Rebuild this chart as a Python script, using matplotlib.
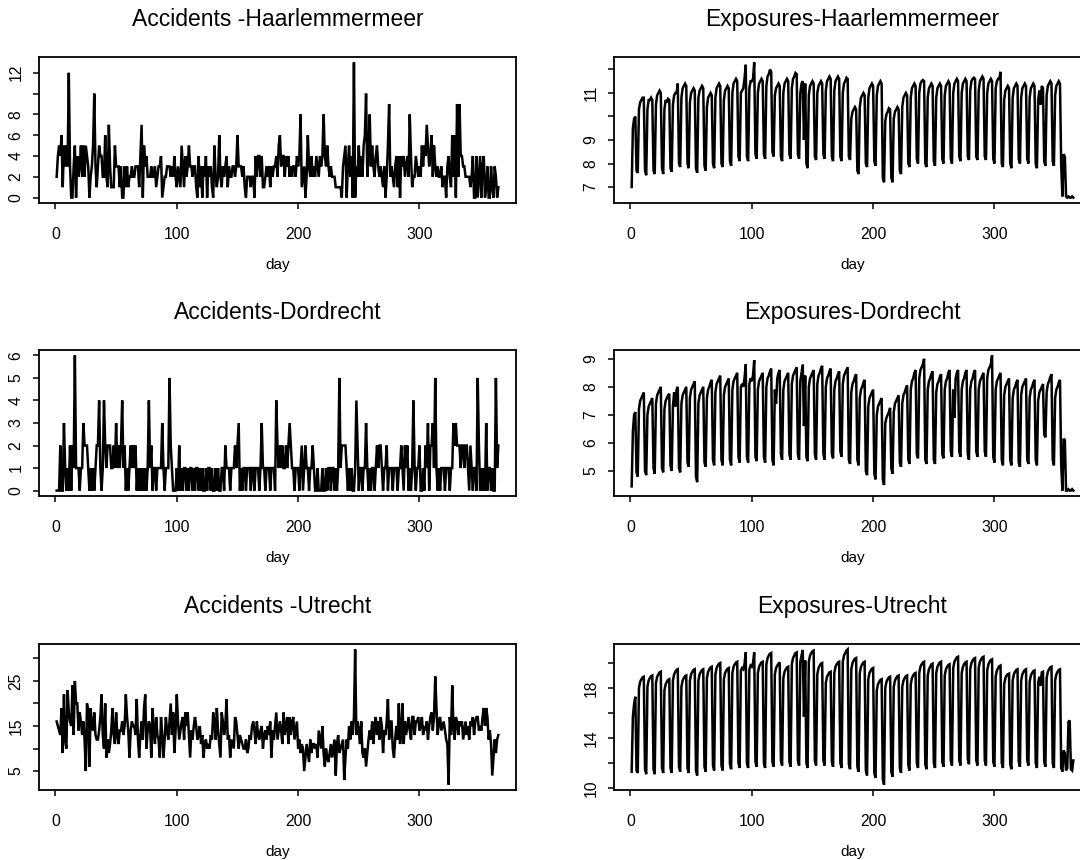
#!/usr/bin/env python3
"""Daily accidents and exposures for three Dutch regions (one year, 365 days)."""
from __future__ import annotations

import matplotlib

matplotlib.use("Agg")
import matplotlib.pyplot as plt
import numpy as np

# ---- data (day 1..365) ----
acc_haarlemmermeer = [
    2, 4, 5, 4, 6, 1, 5, 3, 5, 3,       # 1-10
    12, 3, 0, 0, 3, 5, 0, 4, 2, 3,      # 11-20
    5, 2, 5, 2, 5, 4, 3, 0, 2, 3,       # 21-30
    5, 10, 3, 1, 3, 5, 4, 4, 2, 2,      # 31-40
    6, 2, 1, 7, 3, 1, 1, 1, 5, 3,       # 41-50
    3, 3, 1, 3, 0, 0, 3, 1, 3, 1,       # 51-60
    2, 2, 3, 2, 2, 3, 3, 3, 1, 4,       # 61-70
    7, 0, 5, 3, 4, 2, 2, 2, 3, 2,       # 71-80
    2, 3, 1, 2, 3, 3, 4, 0, 1, 2,       # 81-90
    2, 3, 3, 3, 2, 3, 2, 4, 2, 1,       # 91-100
    3, 2, 1, 5, 3, 1, 4, 2, 3, 5,       # 101-110
    3, 3, 2, 3, 3, 1, 0, 4, 1, 3,       # 111-120
    0, 3, 2, 4, 0, 3, 2, 3, 1, 0,       # 121-130
    5, 2, 1, 2, 6, 2, 1, 3, 2, 3,       # 131-140
    4, 1, 3, 2, 2, 3, 3, 2, 3, 6,       # 141-150
    3, 3, 3, 2, 3, 1, 0, 2, 2, 2,       # 151-160
    1, 2, 2, 0, 4, 2, 4, 4, 2, 4,       # 161-170
    1, 1, 2, 3, 2, 3, 1, 3, 2, 3,       # 171-180
    3, 4, 2, 5, 6, 3, 4, 4, 2, 4,       # 181-190
    3, 4, 2, 3, 2, 3, 3, 2, 4, 3,       # 191-200
    4, 8, 1, 2, 3, 0, 2, 6, 3, 2,       # 201-210
    4, 2, 3, 2, 4, 3, 2, 4, 3, 4,       # 211-220
    8, 4, 3, 5, 3, 2, 3, 2, 2, 2,       # 221-230
    1, 1, 1, 1, 1, 0, 3, 4, 5, 0,       # 231-240
    3, 5, 2, 4, 0, 13, 0, 3, 2, 5,      # 241-250
    2, 4, 2, 5, 6, 10, 2, 4, 8, 3,      # 251-260
    5, 3, 2, 4, 5, 3, 2, 3, 2, 1,       # 261-270
    3, 0, 2, 5, 9, 2, 3, 2, 1, 3,       # 271-280
    4, 1, 4, 0, 4, 3, 4, 2, 3, 4,       # 281-290
    2, 8, 4, 1, 2, 2, 4, 3, 2, 3,       # 291-300
    2, 5, 3, 5, 4, 7, 5, 3, 4, 6,       # 301-310
    2, 5, 3, 2, 3, 2, 2, 3, 1, 2,       # 311-320
    2, 0, 3, 4, 2, 1, 6, 2, 6, 0,       # 321-330
    9, 2, 9, 4, 4, 3, 3, 2, 2, 2,       # 331-340
    2, 1, 2, 4, 0, 0, 4, 0, 2, 4,       # 341-350
    0, 3, 4, 0, 1, 3, 0, 0, 3, 1,       # 351-360
    0, 3, 2, 0, 1,                      # 361-365
]

acc_dordrecht = [
    0, 0, 0, 2, 0, 0, 3, 1, 0, 1,       # 1-10
    0, 2, 0, 2, 1, 6, 1, 1, 1, 0,       # 11-20
    1, 1, 3, 2, 2, 2, 1, 0, 1, 0,       # 21-30
    1, 0, 1, 2, 2, 4, 1, 0, 1, 4,       # 31-40
    2, 1, 2, 2, 2, 1, 1, 2, 1, 3,       # 41-50
    1, 2, 1, 2, 4, 1, 2, 0, 1, 0,       # 51-60
    1, 2, 1, 2, 1, 2, 0, 1, 0, 1,       # 61-70
    0, 1, 0, 1, 0, 1, 4, 1, 2, 0,       # 71-80
    1, 1, 0, 1, 1, 1, 1, 3, 1, 0,       # 81-90
    1, 1, 1, 5, 2, 1, 0, 0, 0, 1,       # 91-100
    0, 2, 0, 1, 0, 1, 1, 0, 1, 0,       # 101-110
    1, 1, 0, 1, 0, 1, 1, 0, 1, 0,       # 111-120
    1, 0, 0, 1, 0, 1, 1, 0, 1, 0,       # 121-130
    0, 1, 0, 1, 0, 0, 1, 1, 0, 2,       # 131-140
    1, 1, 1, 0, 1, 1, 1, 2, 1, 2,       # 141-150
    3, 0, 1, 0, 1, 1, 0, 1, 1, 1,       # 151-160
    0, 1, 1, 0, 1, 1, 1, 0, 1, 3,       # 161-170
    1, 1, 0, 1, 1, 1, 0, 1, 1, 1,       # 171-180
    0, 4, 2, 1, 2, 1, 2, 1, 1, 2,       # 181-190
    1, 2, 3, 2, 1, 1, 0, 1, 1, 1,       # 191-200
    0, 1, 2, 0, 1, 2, 1, 1, 0, 1,       # 201-210
    1, 2, 1, 0, 0, 1, 0, 0, 0, 1,       # 211-220
    0, 0, 1, 0, 1, 1, 0, 1, 1, 0,       # 221-230
    1, 0, 1, 5, 1, 2, 2, 2, 2, 1,       # 231-240
    0, 1, 0, 1, 0, 0, 1, 4, 2, 0,       # 241-250
    1, 1, 0, 1, 1, 3, 1, 0, 1, 0,       # 251-260
    1, 1, 0, 1, 2, 1, 2, 2, 1, 0,       # 261-270
    1, 1, 2, 0, 1, 1, 1, 0, 1, 1,       # 271-280
    1, 0, 1, 1, 2, 1, 0, 2, 1, 2,       # 281-290
    0, 1, 0, 1, 4, 1, 0, 1, 1, 2,       # 291-300
    0, 0, 1, 0, 2, 1, 3, 0, 2, 2,       # 301-310
    3, 1, 5, 1, 0, 1, 0, 1, 1, 1,       # 311-320
    0, 1, 1, 1, 0, 1, 1, 3, 2, 3,       # 321-330
    2, 2, 2, 1, 2, 2, 1, 2, 2, 1,       # 331-340
    0, 2, 1, 0, 1, 1, 0, 5, 2, 0,       # 341-350
    1, 0, 1, 0, 3, 0, 1, 1, 0, 1,       # 351-360
    0, 0, 5, 1, 2,                      # 361-365
]

acc_utrecht = [
    16, 15, 14, 13, 19, 9, 22, 12, 10, 23,     # 1-10
    18, 16, 15, 24, 13, 25, 20, 20, 14, 18,    # 11-20
    16, 13, 16, 12, 5, 20, 18, 6, 19, 15,      # 21-30
    14, 18, 13, 12, 12, 14, 17, 22, 13, 10,    # 31-40
    20, 8, 12, 9, 11, 14, 19, 13, 11, 18,      # 41-50
    13, 11, 14, 14, 16, 13, 15, 22, 17, 14,    # 51-60
    8, 14, 16, 15, 15, 13, 21, 12, 8, 13,      # 61-70
    16, 12, 19, 22, 10, 14, 16, 15, 8, 19,     # 71-80
    14, 11, 17, 13, 12, 8, 17, 13, 8, 12,      # 81-90
    17, 14, 12, 16, 20, 13, 18, 9, 14, 22,     # 91-100
    16, 12, 14, 16, 17, 12, 18, 15, 18, 13,    # 101-110
    8, 14, 12, 15, 17, 15, 12, 13, 15, 11,     # 111-120
    13, 8, 11, 12, 10, 11, 10, 13, 12, 18,     # 121-130
    16, 12, 19, 14, 11, 8, 18, 16, 13, 15,     # 131-140
    21, 12, 13, 8, 12, 11, 10, 17, 16, 13,     # 141-150
    10, 13, 12, 11, 10, 10, 12, 9, 10, 13,     # 151-160
    12, 15, 16, 14, 11, 16, 13, 12, 14, 15,    # 161-170
    10, 13, 14, 12, 15, 13, 16, 8, 14, 12,     # 171-180
    15, 18, 12, 14, 16, 14, 11, 18, 13, 15,    # 181-190
    17, 11, 17, 13, 16, 17, 12, 14, 16, 10,    # 191-200
    12, 9, 11, 10, 5, 8, 11, 9, 7, 12,         # 201-210
    9, 11, 11, 10, 11, 8, 14, 12, 10, 15,      # 211-220
    9, 6, 10, 8, 7, 9, 11, 8, 10, 12,          # 221-230
    4, 11, 13, 9, 10, 11, 12, 3, 8, 12,        # 231-240
    10, 15, 12, 16, 13, 17, 32, 13, 16, 14,    # 241-250
    11, 16, 9, 8, 10, 6, 9, 12, 14, 12,        # 251-260
    16, 11, 15, 17, 13, 16, 12, 17, 15, 9,     # 261-270
    14, 13, 16, 21, 12, 16, 16, 10, 8, 12,     # 271-280
    15, 12, 20, 11, 14, 20, 11, 16, 13, 15,    # 281-290
    17, 14, 12, 17, 17, 13, 16, 16, 17, 14,    # 291-300
    15, 17, 13, 15, 14, 16, 12, 15, 17, 18,    # 301-310
    14, 17, 26, 19, 13, 16, 17, 14, 15, 16,    # 311-320
    14, 12, 11, 2, 17, 13, 24, 15, 12, 17,     # 321-330
    16, 13, 16, 15, 16, 12, 14, 16, 13, 15,    # 331-340
    12, 16, 15, 17, 13, 16, 17, 17, 14, 15,    # 341-350
    14, 17, 19, 15, 19, 17, 12, 14, 11, 4,     # 351-360
    8, 12, 9, 12, 13,                          # 361-365
]

# exposures: written week by week (Mon..Sun), first 6 days are a partial week
exp_haarlemmermeer = [
    7.0, 9.5, 9.9, 10.0, 7.7, 7.6,
    10.3, 10.6, 10.7, 10.8, 10.8, 7.7, 7.5,
    10.3, 10.7, 10.7, 10.8, 10.7, 7.7, 7.55,
    10.5, 10.9, 11.0, 11.1, 11.0, 7.8, 7.55,
    10.3, 10.7, 10.6, 10.75, 10.7, 7.8, 7.65,
    10.5, 10.9, 11.0, 11.0, 11.4, 8.0, 7.85,
    10.8, 11.2, 11.3, 11.4, 11.3, 8.0, 7.8,
    10.6, 11.0, 11.1, 11.2, 11.1, 7.8, 7.6,
    10.8, 11.1, 11.2, 11.3, 11.2, 7.9, 7.7,
    10.4, 10.8, 10.9, 11.0, 10.9, 8.0, 7.8,
    10.8, 11.2, 11.3, 11.4, 11.3, 8.0, 7.85,
    10.7, 11.1, 11.2, 11.3, 11.2, 8.1, 7.9,
    11.0, 11.4, 11.5, 11.6, 11.5, 8.3, 8.1,
    11.0, 11.1, 11.2, 11.6, 12.2, 8.3, 8.1,
    11.2, 11.5, 11.5, 11.6, 12.3, 8.4, 8.2,
    11.0, 11.4, 11.5, 11.6, 11.5, 8.4, 8.2,
    11.3, 11.7, 11.8, 12.0, 11.9, 8.5, 8.3,
    10.9, 11.2, 11.3, 11.4, 11.3, 8.3, 8.1,
    11.0, 11.4, 11.5, 11.6, 11.5, 8.4, 8.2,
    11.2, 11.6, 11.7, 11.85, 11.8, 8.4, 8.2,
    11.0, 11.4, 11.5, 9.0, 11.4, 8.0, 7.8,
    10.9, 11.3, 11.4, 11.5, 11.4, 8.3, 8.15,
    11.0, 11.3, 11.4, 11.5, 11.4, 8.4, 8.2,
    11.1, 11.5, 11.6, 11.7, 11.6, 8.3, 8.1,
    11.1, 11.5, 11.6, 11.7, 11.6, 8.3, 8.1,
    11.0, 11.4, 11.5, 11.65, 11.6, 8.3, 8.15,
    9.9, 10.2, 10.3, 10.4, 10.3, 7.7, 7.55,
    10.4, 10.8, 10.9, 11.0, 10.9, 8.0, 7.85,
    10.8, 11.2, 11.3, 11.4, 11.3, 8.1, 7.9,
    10.9, 11.3, 11.4, 11.5, 11.4, 7.4, 7.2,
    9.8, 10.1, 10.2, 10.35, 10.3, 7.4, 7.2,
    9.9, 10.2, 10.3, 10.4, 10.3, 7.7, 7.55,
    10.4, 10.8, 10.9, 11.0, 10.9, 8.0, 7.85,
    10.8, 11.2, 11.3, 11.4, 11.3, 8.2, 8.0,
    11.0, 11.4, 11.5, 11.55, 11.5, 8.0, 7.85,
    10.8, 11.2, 11.3, 11.4, 11.3, 8.1, 7.9,
    10.8, 11.2, 11.3, 11.4, 11.3, 8.2, 8.0,
    10.9, 11.3, 11.4, 11.5, 11.4, 8.2, 8.0,
    11.0, 11.4, 11.5, 11.6, 11.5, 8.3, 8.1,
    11.0, 11.4, 11.5, 11.6, 11.5, 8.3, 8.15,
    11.1, 11.5, 11.6, 11.65, 11.6, 8.3, 8.15,
    11.1, 11.5, 11.6, 11.7, 11.6, 8.3, 8.15,
    11.0, 11.4, 11.5, 11.6, 11.5, 8.2, 8.0,
    11.2, 11.5, 11.6, 11.6, 11.9, 8.0, 7.85,
    10.7, 11.1, 11.2, 11.3, 11.2, 8.0, 7.8,
    10.8, 11.2, 11.3, 11.4, 11.3, 8.2, 8.0,
    10.8, 11.2, 11.3, 11.4, 11.3, 8.2, 8.0,
    10.8, 11.2, 11.3, 11.4, 11.3, 8.0, 7.8,
    10.7, 11.1, 10.5, 11.3, 11.2, 8.1, 7.9,
    10.9, 11.3, 11.4, 11.5, 11.4, 8.1, 7.9,
    10.9, 11.3, 11.4, 11.5, 11.4, 7.9, 6.6,
    8.4, 8.3, 6.6, 6.55, 6.6, 6.55, 6.55, 6.6, 6.55,
]

exp_dordrecht = [
    4.45, 6.4, 7.0, 7.1, 4.95, 4.8,
    7.2, 7.5, 7.6, 7.7, 7.8, 5.0, 4.85,
    7.0, 7.3, 7.4, 7.5, 7.6, 5.1, 4.9,
    7.4, 7.7, 7.8, 7.9, 8.0, 5.1, 4.95,
    7.2, 7.5, 7.6, 7.7, 7.75, 5.2, 5.0,
    7.3, 7.8, 7.3, 7.9, 8.0, 5.1, 4.95,
    7.4, 7.7, 7.8, 7.9, 8.0, 5.3, 5.15,
    7.6, 7.9, 8.0, 8.1, 8.2, 4.8, 4.6,
    7.4, 7.7, 7.8, 7.9, 8.0, 5.3, 5.15,
    7.6, 7.9, 8.0, 8.15, 8.25, 5.4, 5.2,
    7.8, 8.1, 8.2, 8.3, 8.4, 5.4, 5.2,
    7.7, 8.0, 8.1, 8.2, 8.3, 5.4, 5.2,
    7.9, 8.2, 8.3, 8.4, 8.5, 5.5, 5.3,
    8.0, 8.1, 8.0, 8.3, 8.8, 5.5, 5.3,
    8.1, 8.3, 8.2, 8.4, 8.95, 5.5, 5.35,
    7.9, 8.2, 8.3, 8.4, 8.5, 5.5, 5.3,
    8.0, 8.3, 8.4, 8.55, 8.65, 5.4, 5.2,
    7.9, 7.4, 8.3, 8.5, 8.6, 5.6, 5.4,
    7.9, 8.2, 8.3, 8.4, 8.5, 5.6, 5.4,
    8.1, 8.4, 8.5, 8.6, 8.7, 5.6, 5.4,
    8.2, 8.5, 8.8, 6.6, 8.4, 5.5, 5.35,
    8.0, 8.3, 8.4, 8.5, 8.6, 5.6, 5.4,
    8.1, 8.4, 8.5, 8.65, 8.75, 5.6, 5.4,
    8.0, 8.3, 8.4, 8.55, 8.65, 5.6, 5.45,
    7.9, 8.2, 8.3, 8.45, 8.55, 5.7, 5.5,
    8.1, 8.4, 8.5, 8.6, 8.7, 5.4, 5.25,
    7.8, 8.1, 8.2, 8.35, 8.45, 5.4, 5.2,
    7.6, 7.9, 8.0, 8.15, 8.25, 5.0, 4.85,
    7.3, 7.6, 7.7, 7.8, 7.9, 4.9, 4.7,
    7.0, 7.3, 7.4, 7.5, 7.6, 4.7, 4.5,
    6.7, 6.9, 7.0, 7.1, 7.25, 5.1, 4.9,
    7.1, 7.4, 7.5, 7.6, 7.7, 5.3, 5.15,
    7.4, 7.7, 7.8, 7.95, 8.05, 5.4, 5.25,
    7.9, 8.2, 8.3, 8.5, 8.6, 5.6, 5.45,
    8.3, 8.6, 8.7, 8.8, 9.0, 5.4, 5.25,
    7.9, 8.2, 8.3, 8.45, 8.55, 5.4, 5.25,
    7.8, 8.1, 8.2, 8.35, 8.45, 5.6, 5.45,
    7.9, 8.2, 8.3, 8.5, 8.6, 5.7, 5.5,
    7.9, 6.9, 8.3, 8.5, 8.6, 5.7, 5.5,
    7.9, 8.2, 8.3, 8.5, 8.6, 5.6, 5.4,
    7.9, 8.2, 8.3, 8.5, 8.6, 5.7, 5.5,
    7.9, 8.2, 8.3, 8.4, 8.5, 5.7, 5.5,
    8.3, 8.6, 8.7, 8.8, 9.12, 5.5, 5.3,
    7.9, 8.2, 8.3, 8.4, 8.5, 5.4, 5.2,
    7.7, 8.0, 8.1, 8.2, 8.3, 5.4, 5.2,
    7.6, 7.9, 8.0, 8.15, 8.25, 5.3, 5.15,
    7.7, 8.0, 8.1, 8.2, 8.3, 5.4, 5.25,
    7.6, 7.9, 8.0, 8.15, 8.25, 5.4, 5.2,
    7.5, 7.8, 7.9, 8.0, 8.1, 6.3, 6.2,
    7.8, 8.1, 8.2, 8.35, 8.45, 5.4, 5.2,
    7.6, 7.9, 8.0, 8.15, 8.25, 5.2, 4.3,
    6.15, 6.1, 4.3, 4.3, 4.35, 4.3, 4.3, 4.35, 4.3,
]

exp_utrecht = [
    11.3, 15.7, 16.7, 17.3, 11.4, 11.2,
    18.0, 18.5, 18.7, 18.85, 18.9, 11.5, 11.1,
    18.1, 18.6, 18.8, 18.95, 19.0, 11.5, 11.1,
    18.4, 18.9, 19.1, 19.25, 19.3, 11.6, 11.2,
    17.8, 18.3, 18.5, 18.65, 18.7, 11.6, 11.2,
    18.6, 19.1, 19.3, 19.45, 19.5, 11.7, 11.3,
    18.1, 18.6, 18.8, 18.95, 19.0, 11.6, 11.2,
    18.6, 19.1, 19.3, 19.45, 19.5, 11.4, 11.0,
    18.6, 19.1, 19.3, 19.45, 19.5, 11.7, 11.3,
    18.8, 19.3, 19.5, 19.65, 19.7, 11.8, 11.4,
    19.1, 19.6, 19.8, 19.95, 20.0, 11.8, 11.4,
    18.7, 19.2, 19.4, 19.55, 19.6, 11.9, 11.5,
    19.2, 19.7, 19.9, 20.05, 20.1, 12.0, 11.6,
    19.4, 19.6, 19.5, 19.9, 20.85, 12.0, 11.6,
    19.5, 19.8, 19.7, 20.0, 20.85, 12.1, 11.7,
    19.2, 19.7, 19.9, 20.05, 20.1, 12.0, 11.6,
    19.9, 20.4, 20.6, 20.75, 20.8, 12.1, 11.7,
    19.1, 19.6, 19.8, 19.95, 20.05, 12.2, 11.8,
    18.8, 19.3, 19.5, 19.65, 19.7, 12.1, 11.7,
    19.9, 20.4, 20.6, 20.8, 20.85, 12.2, 11.8,
    20.1, 20.6, 21.05, 15.7, 20.2, 12.0, 11.6,
    20.1, 20.6, 20.8, 20.95, 21.0, 12.2, 11.8,
    19.1, 19.6, 19.8, 19.95, 20.0, 12.2, 11.8,
    18.4, 18.9, 19.1, 19.25, 19.3, 12.1, 11.7,
    19.2, 19.7, 19.9, 20.05, 20.1, 12.0, 11.6,
    20.1, 20.6, 20.8, 21.0, 21.09, 11.9, 11.5,
    19.5, 20.0, 20.2, 20.35, 20.4, 11.7, 11.3,
    19.2, 19.7, 19.9, 20.05, 20.1, 11.4, 11.0,
    18.7, 19.2, 19.4, 19.55, 19.6, 11.2, 10.8,
    17.8, 18.3, 18.5, 18.65, 18.7, 10.7, 10.27,
    18.0, 18.5, 18.7, 18.85, 18.9, 11.3, 10.9,
    18.1, 18.6, 18.8, 18.95, 19.0, 11.6, 11.2,
    18.1, 18.6, 18.8, 18.95, 19.0, 11.8, 11.4,
    18.3, 18.8, 19.0, 19.15, 19.2, 12.0, 11.6,
    19.2, 19.7, 19.9, 20.05, 20.1, 11.9, 11.5,
    19.0, 19.5, 19.7, 19.9, 19.95, 12.0, 11.6,
    19.2, 19.7, 19.9, 20.05, 20.1, 12.1, 11.7,
    19.0, 19.5, 19.7, 19.85, 19.9, 12.2, 11.8,
    19.6, 20.1, 20.3, 20.45, 20.5, 12.2, 11.8,
    19.2, 19.7, 19.9, 20.05, 20.1, 12.3, 11.9,
    19.5, 20.0, 20.2, 20.35, 20.4, 12.2, 11.8,
    19.6, 20.1, 20.3, 20.45, 20.5, 12.2, 11.8,
    19.4, 19.9, 20.1, 20.25, 20.3, 12.1, 11.7,
    18.9, 19.4, 19.6, 19.75, 19.8, 12.0, 11.6,
    18.3, 18.8, 19.0, 19.1, 19.15, 11.9, 11.5,
    18.6, 19.1, 19.3, 19.45, 19.5, 12.1, 11.7,
    18.6, 19.1, 19.3, 19.45, 19.5, 12.2, 11.8,
    18.5, 19.0, 19.2, 19.35, 19.4, 12.0, 11.6,
    18.4, 18.9, 18.2, 19.25, 19.3, 12.1, 11.7,
    18.8, 19.3, 19.5, 19.65, 19.7, 12.0, 11.6,
    18.6, 19.1, 19.3, 19.45, 19.5, 11.6, 11.3,
    13.0, 12.8, 11.4, 11.6, 15.3, 15.4, 11.5, 11.4, 12.2,
]

titles = [
    "Accidents -Haarlemmermeer", "Exposures-Haarlemmermeer",
    "Accidents-Dordrecht", "Exposures-Dordrecht",
    "Accidents -Utrecht", "Exposures-Utrecht",
]
x_ticks = [0, 100, 200, 300]
y_ticks = [
    [0, 2, 4, 6, 8, 10, 12], [7, 8, 9, 10, 11, 12],
    [0, 1, 2, 3, 4, 5, 6], [5, 6, 7, 8, 9],
    [5, 10, 15, 20, 25, 30], [10, 12, 14, 16, 18, 20],
]
y_tick_labels = [
    ["0", "2", "4", "6", "8", "", "12"], ["7", "8", "9", "", "11", ""],
    ["0", "1", "2", "3", "4", "5", "6"], ["5", "6", "7", "8", "9"],
    ["5", "", "15", "", "25", ""], ["10", "", "14", "", "18", ""],
]

W, H = 1080, 860
COL_LEFT = [39, 614]      # px, left edge of each column's box
BOX_W = 477
ROW_BOTTOM = [203, 496, 790]
BOX_H = 146


def main() -> None:
    plt.rcParams["font.family"] = ["Liberation Sans", "DejaVu Sans"]
    series = [
        acc_haarlemmermeer, exp_haarlemmermeer,
        acc_dordrecht, exp_dordrecht,
        acc_utrecht, exp_utrecht,
    ]
    for s in series:
        if len(s) != 365:
            print("warning: series length", len(s))

    fig = plt.figure(figsize=(W / 100, H / 100), dpi=100)
    for i, (vals, title) in enumerate(zip(series, titles)):
        row, col = divmod(i, 2)
        rect = [
            COL_LEFT[col] / W,
            1 - ROW_BOTTOM[row] / H,
            BOX_W / W,
            BOX_H / H,
        ]
        ax = fig.add_axes(rect)
        days = np.arange(1, len(vals) + 1)
        ax.plot(days, vals, color="black", linewidth=1.8, solid_joinstyle="miter")
        ax.margins(x=0.04, y=0.04)
        ax.set_title(title, fontsize=16.5, pad=22)
        ax.set_xticks(x_ticks)
        ax.set_yticks(y_ticks[i])
        ax.set_yticklabels(y_tick_labels[i], rotation=90, va="center")
        ax.set_xlabel("day", fontsize=11, labelpad=12)
        ax.tick_params(axis="both", direction="out", length=4, width=1.1, labelsize=11.3)
        ax.tick_params(axis="x", pad=13)
        ax.tick_params(axis="y", pad=7)
        for sp in ax.spines.values():
            sp.set_linewidth(1.3)

    fig.savefig("out.png", dpi=100)
    plt.close(fig)


if __name__ == "__main__":
    main()
